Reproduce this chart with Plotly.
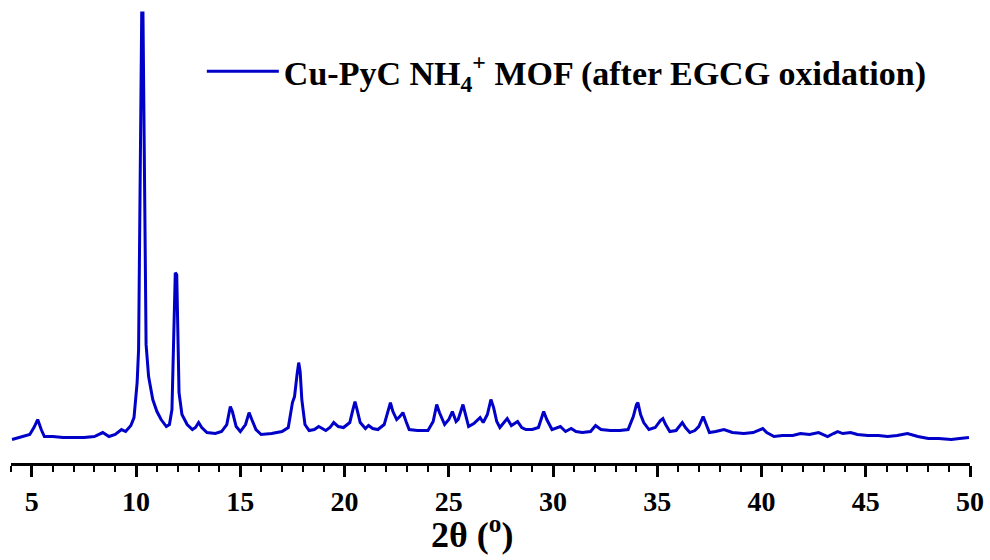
import plotly.graph_objects as go

# 2-theta positions (degrees)
two_theta = [
    4.05, 4.5, 4.9, 5.1, 5.28, 5.45, 5.6, 6.0, 6.5, 7.0, 7.5, 8.0, 8.4, 8.7, 9.0,
    9.3, 9.5, 9.75, 9.9, 10.05, 10.12, 10.15, 10.22, 10.27, 10.33, 10.38, 10.42,
    10.48, 10.6, 10.8, 11.0, 11.2, 11.45, 11.6, 11.72, 11.8, 11.88, 11.95, 12.0,
    12.06, 12.2, 12.45, 12.7, 12.85, 13.0, 13.15, 13.4, 13.8, 14.1, 14.35, 14.52,
    14.62, 14.8, 15.0, 15.25, 15.42, 15.55, 15.75, 16.0, 16.5, 17.0, 17.3, 17.5,
    17.6, 17.72, 17.8, 17.87, 17.95, 18.1, 18.3, 18.55, 18.76, 19.1, 19.3, 19.48,
    19.7, 19.95, 20.25, 20.4, 20.5, 20.6, 20.75, 21.0, 21.15, 21.35, 21.6, 21.9,
    22.1, 22.2, 22.32, 22.5, 22.65, 22.8, 22.95, 23.1, 23.5, 24.0, 24.25, 24.42,
    24.55, 24.8, 25.0, 25.17, 25.35, 25.45, 25.68, 25.8, 25.95, 26.2, 26.5, 26.65,
    26.85, 27.02, 27.15, 27.3, 27.45, 27.8, 28.0, 28.3, 28.5, 28.7, 29.0, 29.3,
    29.45, 29.55, 29.7, 29.95, 30.35, 30.6, 30.87, 31.1, 31.4, 31.8, 32.04, 32.3,
    32.75, 33.2, 33.6, 33.85, 34.0, 34.07, 34.2, 34.35, 34.6, 34.9, 35.15, 35.27,
    35.4, 35.6, 35.9, 36.1, 36.2, 36.35, 36.56, 36.8, 36.99, 37.2, 37.3, 37.5,
    37.8, 38.2, 38.6, 39.15, 39.6, 39.9, 40.06, 40.25, 40.6, 41.0, 41.5, 41.87,
    42.3, 42.74, 43.17, 43.45, 43.65, 43.9, 44.27, 44.6, 45.1, 45.6, 46.05, 46.5,
    47.0, 47.5, 48.0, 48.5, 49.1, 49.5, 49.95,
]

# Intensity (a.u.)
intensity = [
    200, 260, 300, 440, 600, 400, 260, 260, 240, 240, 240, 260, 340, 260, 300,
    400, 360, 480, 640, 1340, 2000, 3340, 7000, 8740, 8740, 6000, 3540,
    2100, 1460, 1000, 760, 600, 460, 500, 800, 1940, 3540, 3500, 2260,
    1140, 700, 500, 400, 440, 540, 440, 340, 320, 360, 500, 860,
    760, 460, 360, 500, 740, 600, 400, 300, 320, 360, 440, 940,
    1060, 1500, 1740, 1560, 1000, 500, 380, 400, 460, 380, 440, 540,
    460, 440, 540, 800, 960, 800, 540, 420, 480, 420, 400, 500,
    800, 940, 760, 600, 660, 740, 560, 400, 380, 380, 560, 900,
    740, 500, 600, 760, 560, 600, 900, 700, 460, 520, 640, 540,
    700, 1000, 840, 560, 440, 620, 480, 560, 440, 400, 400, 440,
    640, 760, 600, 400, 460, 360, 420, 360, 340, 360, 480, 400,
    380, 380, 400, 660, 900, 940, 700, 540, 400, 440, 580, 620,
    500, 360, 380, 500, 540, 440, 340, 380, 460, 660, 560, 340,
    360, 400, 340, 320, 340, 400, 420, 340, 260, 280, 280, 320,
    300, 340, 260, 320, 360, 320, 340, 300, 280, 280, 260, 280,
    320, 260, 220, 220, 200, 220, 240,
]

x_ticks = [5, 10, 15, 20, 25, 30, 35, 40, 45, 50]
series_name = "Cu-PyC NH<sub>4</sub><sup>+</sup> MOF (after EGCG oxidation)"
x_title = "2θ (<sup>o</sup>)"

SERIF = "Liberation Serif, Times New Roman, serif"

fig = go.Figure()
fig.add_trace(go.Scatter(
    x=two_theta, y=intensity, mode="lines", name=series_name,
    line=dict(color="#0000C8", width=3),
))

fig.update_layout(
    width=990, height=560,
    margin=dict(l=11, r=20, t=0, b=97, pad=0),
    paper_bgcolor="white", plot_bgcolor="white",
    showlegend=True,
    legend=dict(
        x=0.199, y=0.845, xanchor="left", yanchor="middle",
        bgcolor="rgba(0,0,0,0)", borderwidth=0,
        font=dict(family=SERIF, size=34, color="black", weight="bold"),
        itemwidth=72,
    ),
    xaxis=dict(
        range=[4, 50], tickvals=x_ticks, ticktext=[str(v) for v in x_ticks],
        showline=True, linecolor="black", linewidth=3,
        ticks="outside", ticklen=11, tickwidth=3, tickcolor="black",
        minor=dict(dtick=1, tick0=0, ticks="outside", ticklen=6, tickwidth=2,
                   tickcolor="black", showgrid=False),
        showgrid=False, zeroline=False,
        tickfont=dict(family=SERIF, size=28, color="black", weight="bold"),
    ),
    yaxis=dict(visible=False, range=[-270, 9000], showgrid=False, zeroline=False),
    annotations=[dict(
        text=x_title, xref="paper", yref="paper", x=0.481, y=-0.097,
        xanchor="center", yanchor="top", showarrow=False,
        font=dict(family=SERIF, size=36, color="black", weight="bold"),
    )],
)

fig.write_html("out.html")
